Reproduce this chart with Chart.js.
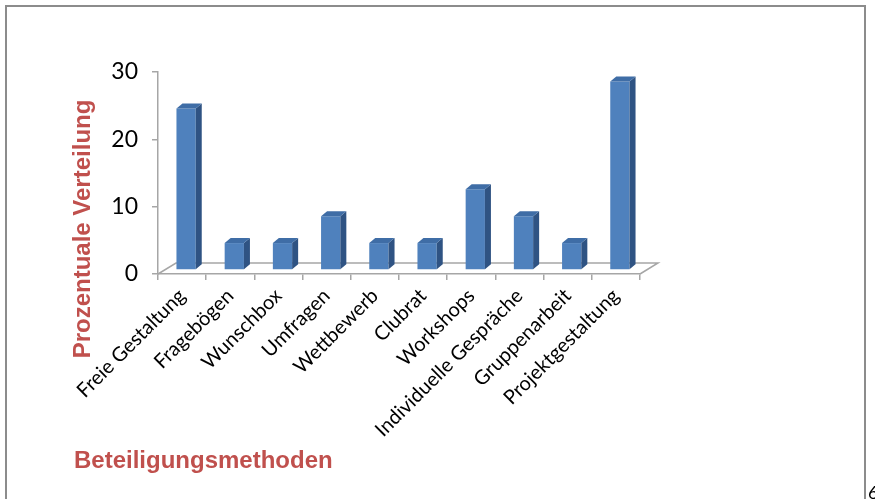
<!DOCTYPE html>
<html>
<head>
<meta charset="utf-8">
<script src="https://cdn.jsdelivr.net/npm/chart.js@4.4.1/dist/chart.umd.min.js"></script>
<style>
  html, body { margin: 0; padding: 0; background: #ffffff; }
  canvas { display: block; }
</style>
</head>
<body>
<canvas id="chart" width="875" height="499"></canvas>
<script>
const categories = ['Freie Gestaltung', 'Fragebögen', 'Wunschbox', 'Umfragen', 'Wettbewerb',
    'Clubrat', 'Workshops', 'Individuelle Gespräche', 'Gruppenarbeit', 'Projektgestaltung'];
const shares = [24, 4, 4, 8, 4, 4, 12, 8, 4, 28];
const yTicks = [0, 10, 20, 30];

const yTitle = 'Prozentuale Verteilung';
const xTitle = 'Beteiligungsmethoden';

const axisGray = '#a6a6a6';
const titleRed = '#c0504d';
const depthX = 18, depthY = 11;

// frame, floor, 3d faces and titles
const decor = {
    id: 'decor',
    beforeDraw(chart) {
        const ctx = chart.ctx;
        ctx.save();
        ctx.strokeStyle = '#8c8c8c';
        ctx.lineWidth = 2;
        ctx.beginPath();
        ctx.moveTo(6, 499);
        ctx.lineTo(6, 6);
        ctx.lineTo(865, 6);
        ctx.lineTo(865, 499);
        ctx.stroke();
        ctx.restore();
    },
    beforeDatasetsDraw(chart) {
        const ctx = chart.ctx;
        const a = chart.chartArea;
        const y0 = chart.scales.y.getPixelForValue(0);
        ctx.save();
        ctx.strokeStyle = axisGray;
        ctx.lineWidth = 1.5;
        ctx.beginPath();
        ctx.moveTo(a.left, y0);
        ctx.lineTo(a.left + depthX, y0 - depthY);
        ctx.lineTo(a.right + depthX, y0 - depthY);
        ctx.lineTo(a.right, y0);
        ctx.stroke();
        ctx.restore();
        ctx.save();
        ctx.translate(4, -4);
    },
    afterDatasetsDraw(chart) {
        const ctx = chart.ctx;
        const dx = 6, dy = 5;
        chart.getDatasetMeta(0).data.forEach(bar => {
            const l = bar.x - bar.width / 2, r = bar.x + bar.width / 2;
            ctx.fillStyle = '#2f5383';
            ctx.beginPath();
            ctx.moveTo(r, bar.y);
            ctx.lineTo(r + dx, bar.y - dy);
            ctx.lineTo(r + dx, bar.base - dy);
            ctx.lineTo(r, bar.base);
            ctx.closePath();
            ctx.fill();
            ctx.fillStyle = '#3f6da6';
            ctx.beginPath();
            ctx.moveTo(l, bar.y);
            ctx.lineTo(l + dx, bar.y - dy);
            ctx.lineTo(r + dx, bar.y - dy);
            ctx.lineTo(r, bar.y);
            ctx.closePath();
            ctx.fill();
        });
        ctx.restore();
    },
    afterDraw(chart) {
        const ctx = chart.ctx;
        ctx.save();
        ctx.fillStyle = titleRed;
        ctx.font = 'bold 24px "Liberation Sans", Arial, sans-serif';
        ctx.textBaseline = 'middle';
        ctx.textAlign = 'left';
        ctx.fillText(xTitle, 74, 461);
        ctx.translate(83, 229);
        ctx.rotate(-Math.PI / 2);
        ctx.textAlign = 'center';
        ctx.fillText(yTitle, 0, 0);
        ctx.restore();
        ctx.save();
        ctx.fillStyle = '#000000';
        ctx.font = '18px Lato, sans-serif';
        ctx.textBaseline = 'top';
        ctx.fillText('6', 868, 484);
        ctx.restore();
    }
};

new Chart(document.getElementById('chart'), {
    type: 'bar',
    data: {
        labels: categories,
        datasets: [{
            data: shares,
            backgroundColor: '#4f81bd',
            borderWidth: 0,
            barPercentage: 0.4,
            categoryPercentage: 1
        }]
    },
    options: {
        responsive: false,
        animation: false,
        layout: { padding: { left: 0, top: 72, right: 235, bottom: 0 } },
        plugins: {
            legend: { display: false },
            tooltip: { enabled: false }
        },
        scales: {
            x: {
                afterFit(scale) { scale.height = 225; },
                grid: {
                    offset: true,
                    drawOnChartArea: false,
                    drawTicks: true,
                    tickLength: 6,
                    color: axisGray,
                    lineWidth: 1.5
                },
                border: { display: true, color: axisGray, width: 1.5 },
                ticks: {
                    autoSkip: false,
                    minRotation: 45,
                    maxRotation: 45,
                    padding: 4,
                    color: '#000000',
                    font: { family: 'Lato, sans-serif', size: 20 }
                }
            },
            y: {
                min: 0,
                max: 30,
                afterFit(scale) { scale.width = 158; },
                afterBuildTicks(scale) { scale.ticks = yTicks.map(v => ({ value: v })); },
                grid: {
                    drawOnChartArea: false,
                    drawTicks: true,
                    tickLength: 6,
                    color: axisGray,
                    lineWidth: 1.5
                },
                border: { display: true, color: axisGray, width: 1.5 },
                ticks: {
                    padding: 14,
                    color: '#000000',
                    font: { family: 'Lato, sans-serif', size: 23 }
                }
            }
        }
    },
    plugins: [decor]
});
</script>
</body>
</html>
